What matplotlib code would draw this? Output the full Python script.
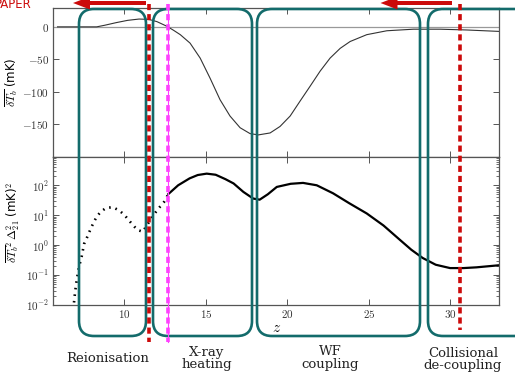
import numpy as np
import matplotlib.pyplot as plt
from matplotlib.patches import FancyBboxPatch, FancyArrow
from matplotlib.ticker import FixedLocator, FuncFormatter

plt.rcParams['mathtext.fontset'] = 'cm'
plt.rcParams['font.family'] = 'DejaVu Sans'

#global brightness temperature (mK) against redshift
z_tb = [5.9, 7.0, 8.3, 8.8, 9.5, 10.2, 10.9, 11.5, 12.0, 12.6, 13.0, 13.43, 14.03, 14.65,
        15.26, 15.87, 16.48, 17.1, 17.71, 18.22, 18.94, 19.55, 20.17, 20.78, 21.4, 22.01,
        22.62, 23.24, 23.85, 24.87, 26.1, 27.73, 29.37, 31.0, 33.0]
dtb = [0, 0, 0, 2.5, 6.5, 10, 12, 11.5, 8, 1, -5, -12, -25, -48,
       -79, -112, -137, -155, -164, -166, -163, -153, -137, -114, -91, -68,
       -48, -33, -22.5, -12, -6, -3.6, -3.6, -4.8, -7]

#power spectrum, dotted at low z (reionisation side)
z_ps_lo = [6.91, 6.98, 7.08, 7.22, 7.39, 7.53, 7.69, 7.83, 8.0, 8.14, 8.31, 8.55, 8.88,
           9.29, 9.69, 10.0, 10.25, 10.52, 10.8, 11.13, 11.53, 11.99, 12.44, 12.7]
ps_lo = [0.012, 0.028, 0.07, 0.19, 0.44, 1.1, 1.7, 2.6, 4.2, 6.1, 9, 13, 17.5,
         18.5, 14.3, 10.2, 7, 4.7, 3.2, 2.8, 6.1, 14.3, 28, 51]

#power spectrum, solid part
z_ps_hi = [12.7, 13.3, 14.0, 14.5, 15.05, 15.6, 16.2, 16.7, 17.3, 17.9, 18.3, 18.8, 19.35,
           20.2, 20.96, 21.8, 22.8, 23.8, 24.87, 25.9, 26.9, 27.6, 28.3, 29.1, 29.98,
           30.8, 31.6, 32.93]
ps_hi = [51, 100, 170, 220, 245, 225, 160, 115, 60, 36, 33, 50, 88,
         112, 120, 100, 54, 25, 11.4, 4.5, 1.5, 0.7, 0.37, 0.22, 0.17,
         0.17, 0.18, 0.21]

tb_ticks = [0, -50, -100, -150]
ps_ticks = [1e-2, 1e-1, 1e0, 1e1, 1e2]
z_ticks = [10, 15, 20, 25, 30]

phase_names = ['Reionisation', 'X-ray\nheating', 'WF\ncoupling', 'Collisional\nde-coupling']

teal = '#136b6b'
red = '#cc0a0a'
magenta = '#ff40ff'
spine_col = '#555555'

fig = plt.figure(figsize=(5.15, 3.73), dpi=100)
ax1 = fig.add_axes([0.1035, 0.579, 0.866, 0.3996])
ax2 = fig.add_axes([0.1035, 0.1823, 0.866, 0.3967], sharex=ax1)

#top panel
ax1.axhline(0, color='#999999', lw=0.9)
ax1.plot(z_tb, dtb, color='#333333', lw=0.8)
ax1.set_ylim(-200, 29)
ax1.yaxis.set_major_locator(FixedLocator(tb_ticks))
ax1.yaxis.set_major_formatter(FuncFormatter(lambda v, p: '$%d$' % v))
ax1.set_ylabel(r'$\overline{\delta T_b}$ (mK)', fontsize=8.5, labelpad=2)
plt.setp(ax1.get_xticklabels(), visible=False)

#bottom panel
ax2.plot(z_ps_lo, ps_lo, color='black', lw=1.9, ls=(0, (0.6, 1.9)))
ax2.plot(z_ps_hi, ps_hi, color='black', lw=1.6)
ax2.set_yscale('log')
ax2.set_ylim(0.0099, 880)
ax2.yaxis.set_major_locator(FixedLocator(ps_ticks))
ax2.yaxis.set_major_formatter(FuncFormatter(lambda v, p: '$10^{%d}$' % round(np.log10(v))))
ax2.set_ylabel(r'$\overline{\delta T_b}^2\,\Delta_{21}^2$ (mK)$^2$', fontsize=8.5)
ax2.yaxis.set_label_coords(-0.07, 0.56)
ax2.set_xlim(5.64, 33.0)
ax2.xaxis.set_major_locator(FixedLocator(z_ticks))
ax2.xaxis.set_major_formatter(FuncFormatter(lambda v, p: '$%d$' % v))
ax2.set_xlabel('$z$', fontsize=11, labelpad=0)

for ax in (ax1, ax2):
    for s in ax.spines.values():
        s.set_color(spine_col)
        s.set_linewidth(0.9)
    ax.tick_params(direction='in', top=True, right=True, labelsize=8, pad=3,
                   colors=spine_col, labelcolor='#333333', length=4, width=0.7)
    ax.tick_params(which='minor', direction='in', right=True, top=False, length=2,
                   colors=spine_col)
ax2.tick_params(axis='x', which='minor', bottom=False)
ax2.tick_params(axis='x', pad=2)

#annotation layer in pixel units
ov = fig.add_axes([0, 0, 1, 1], zorder=10)
ov.set_xlim(0, 515)
ov.set_ylim(373, 0)
ov.axis('off')
ov.patch.set_alpha(0)

boxes = [(79, 146), (153, 252), (257, 420), (428, 545)]
for x0, x1 in boxes:
    ov.add_patch(FancyBboxPatch((x0, 9), x1 - x0, 327,
                                boxstyle='round,pad=0,rounding_size=15',
                                fc='none', ec=teal, lw=1.9, clip_on=False))

#phase boundaries
ov.plot([149, 149], [4, 342], color=red, lw=2.6, ls=(0, (1.7, 1.1)), solid_capstyle='butt')
ov.plot([460, 460], [4, 330], color=red, lw=2.6, ls=(0, (1.7, 1.1)), solid_capstyle='butt')
ov.plot([168.3, 168.3], [4, 342], color=magenta, lw=0.8)
ov.plot([168.3, 168.3], [4, 342], color=magenta, lw=2.6, ls=(0, (1.7, 1.1)))

ov.add_patch(FancyArrow(146, 3, -73, 0, width=4, head_width=13, head_length=17,
                        length_includes_head=True, color=red, lw=0, clip_on=False))
ov.add_patch(FancyArrow(452, 3, -71.5, 0, width=4, head_width=13, head_length=17,
                        length_includes_head=True, color=red, lw=0, clip_on=False))
ov.text(32, 7.5, 'PAPER', color=red, fontsize=8.5, ha='right', va='baseline')

label_pos = [(108, 358), (207, 358.5), (330, 358), (463, 359.5)]
for name, (x, y) in zip(phase_names, label_pos):
    ov.text(x, y, name, family='DejaVu Serif', fontsize=9.5, ha='center', va='center',
            linespacing=0.92, color='#222222')

fig.savefig('out.png', dpi=100)
